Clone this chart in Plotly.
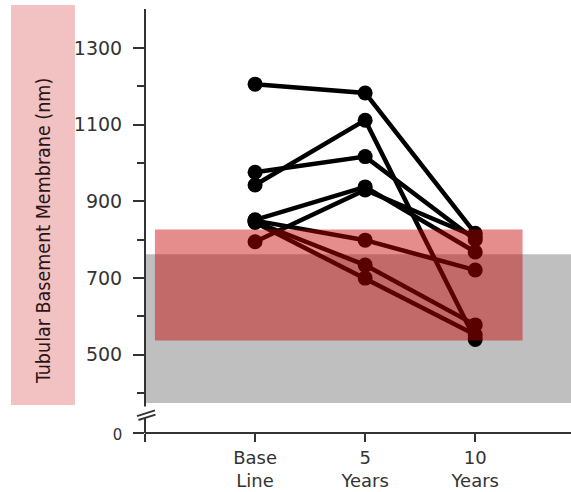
import plotly.graph_objects as go

# ---- data ----
time_labels = ["Base<br>Line", "5<br>Years", "10<br>Years"]
time_pos = [1, 2, 3]
patients = {
    "p1": [1206, 1183, 817],
    "p2": [943, 1112, 540],
    "p3": [976, 1017, 800],
    "p4": [852, 938, 768],
    "p5": [795, 930, 808],
    "p6": [850, 799, 721],
    "p7": [847, 734, 578],
    "p8": [845, 700, 552],
}
normal_range = [374, 762]      # grey band
diabetic_range = [537, 827]    # red band
y_major = [500, 700, 900, 1100, 1300]
y_minor = [400, 600, 800, 1000, 1200]

# axis geometry (broken axis: "0" drawn at y_zero)
y_zero = 296
y_top = 1402
x_max = 3.87
W, H = 571, 492
ML, MR, MT, MB = 145, 0, 9, 59
PW, PH = W - ML - MR, H - MT - MB


def px_x(px):
    return (px - ML) / PW


def px_y(py):
    return (H - MB - py) / PH


fig = go.Figure()
for name, vals in patients.items():
    fig.add_trace(go.Scatter(
        x=time_pos, y=vals, mode="lines+markers", name=name,
        line=dict(color="black", width=4.5),
        marker=dict(color="black", size=15),
        showlegend=False, hoverinfo="skip"))

axis_col = "#333333"
shapes = [
    # y-title box
    dict(type="rect", xref="paper", yref="paper", x0=px_x(11), x1=px_x(75),
         y0=px_y(405), y1=px_y(5), fillcolor="#f2c2c2", line_width=0, layer="below"),
    # grey normal band
    dict(type="rect", xref="x", yref="y", x0=0, x1=x_max,
         y0=normal_range[0], y1=normal_range[1], fillcolor="#bfbfbf",
         line_width=0, layer="below"),
    # red band, over the lines
    dict(type="rect", xref="x", yref="y", x0=0.09, x1=3.43,
         y0=diabetic_range[0], y1=diabetic_range[1],
         fillcolor="rgba(198,0,0,0.45)", line_width=0, layer="above"),
    # x axis line
    dict(type="line", xref="x", yref="paper", x0=0, x1=x_max, y0=0, y1=0,
         line=dict(color=axis_col, width=2), layer="above"),
    # y axis, upper segment
    dict(type="line", xref="paper", yref="y", x0=0, x1=0, y0=365, y1=y_top,
         line=dict(color=axis_col, width=2), layer="above"),
    # y axis, lower segment
    dict(type="line", xref="paper", yref="y", x0=0, x1=0, y0=y_zero, y1=335,
         line=dict(color=axis_col, width=2), layer="above"),
    # break slashes
    dict(type="line", xref="paper", yref="y", x0=px_x(137), x1=px_x(155),
         y0=340, y1=355, line=dict(color=axis_col, width=2), layer="above"),
    dict(type="line", xref="paper", yref="y", x0=px_x(138.5), x1=px_x(155.5),
         y0=330, y1=344, line=dict(color=axis_col, width=2), layer="above"),
]

fig.update_layout(
    width=W, height=H,
    margin=dict(l=ML, r=MR, t=MT, b=MB, pad=0, autoexpand=False),
    paper_bgcolor="white", plot_bgcolor="white",
    shapes=shapes,
    annotations=[dict(
        text="Tubular Basement Membrane (nm)", xref="paper", yref="paper",
        x=px_x(43), y=px_y(231), xanchor="center", yanchor="middle",
        textangle=-90, showarrow=False,
        font=dict(family="Liberation Sans Narrow, DejaVu Sans Condensed, Arial Narrow, sans-serif",
                  size=19.5, color="#2a1414"))],
    xaxis=dict(
        range=[0, x_max], tickmode="array", tickvals=[0] + time_pos,
        ticktext=[""] + time_labels, ticks="outside", ticklen=8, tickwidth=2,
        tickcolor=axis_col, showline=False, showgrid=False, zeroline=False,
        tickfont=dict(family="DejaVu Sans", size=18, color="#333333"),
        automargin=False, fixedrange=True),
    yaxis=dict(
        range=[y_zero, y_top], tickmode="array",
        tickvals=[y_zero] + y_major,
        ticktext=["<span style='font-size:15px'>0</span>"] + [str(v) for v in y_major],
        ticks="outside", ticklen=11, tickwidth=2, tickcolor=axis_col,
        ticklabelstandoff=7,
        minor=dict(tickmode="array", tickvals=y_minor, ticks="outside",
                   ticklen=7, tickwidth=2, tickcolor=axis_col),
        showline=False, showgrid=False, zeroline=False,
        tickfont=dict(family="DejaVu Sans", size=19, color="#333333"),
        automargin=False, fixedrange=True),
)

fig.write_html("out.html", config={"displayModeBar": False},
               post_script="document.body.style.margin='0';document.body.style.padding='0';")
